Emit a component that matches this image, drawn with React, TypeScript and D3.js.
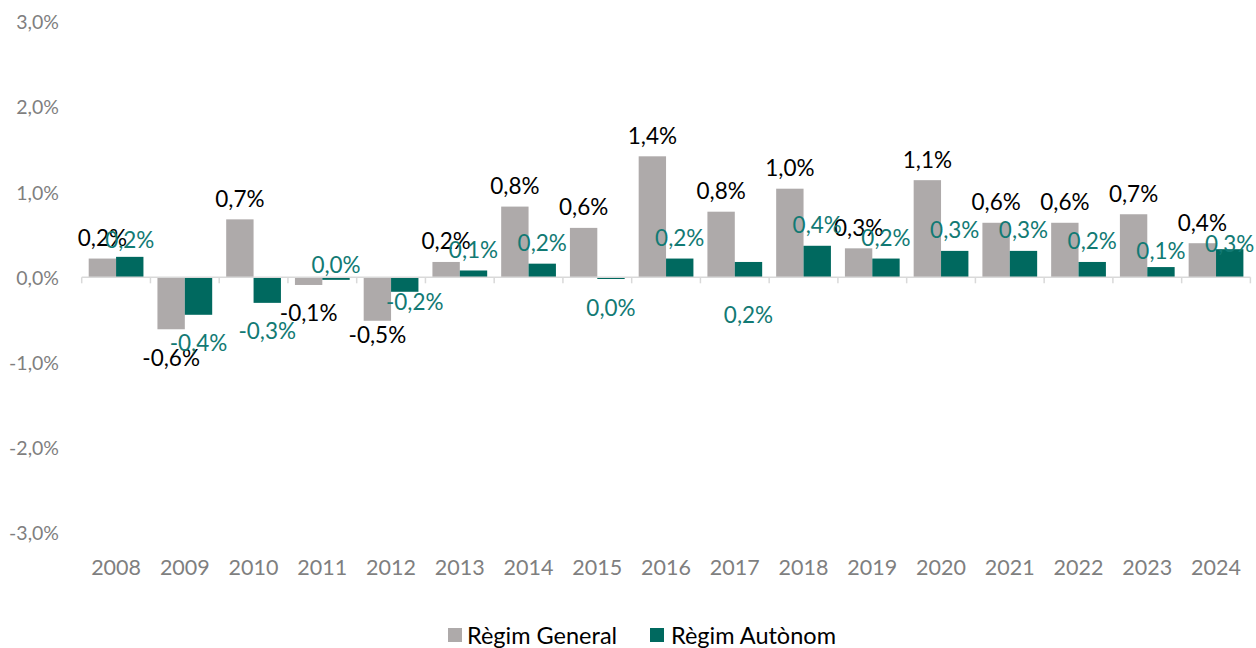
import React from "react";
import * as d3 from "d3";

const years = ["2008","2009","2010","2011","2012","2013","2014","2015","2016","2017","2018","2019","2020","2021","2022","2023","2024"];
const regimGeneral = [0.22,-0.61,0.68,-0.09,-0.51,0.18,0.83,0.58,1.42,0.77,1.04,0.34,1.14,0.64,0.64,0.74,0.40];
const regimAutonom = [0.24,-0.44,-0.30,-0.03,-0.17,0.08,0.16,-0.02,0.22,0.18,0.37,0.22,0.31,0.31,0.18,0.12,0.33];
const yTicks = [-3,-2,-1,0,1,2,3];
const seriesNames = ["Règim General","Règim Autònom"];

const W = 1256, H = 648;
const COLORS = ["#AEAAAA", "#00695F"];
const LABEL_COLORS = ["#000000", "#127A74"];
const FONT = "Lato, 'Open Sans', sans-serif";

// manual label nudges (px), like hand-moved labels in the original
const nudges: Record<string, { dx?: number; dy?: number }> = {
  "1-2008": { dy: 4 },
  "1-2023": { dy: 4 },
  "1-2024": { dy: 15 },
  "1-2017": { dy: 74 },
  "1-2011": { dy: -43 },
  "1-2012": { dx: 10, dy: -18 },
  "0-2012": { dy: -14 },
};

const locale = d3.formatLocale({ decimal: ",", thousands: ".", grouping: [3], currency: ["", "€"], minus: "-" });
const f1 = locale.format(".1f");
const pct = (v: number) => {
  let s = f1(v);
  if (s === "-0,0") s = "0,0";
  return s + "%";
};

export default function App() {
  const x = d3.scaleBand<string>().domain(years).range([81.7, 1250.4]).paddingInner(0).paddingOuter(0);
  const bw = x.bandwidth();
  const xs = d3.scaleBand<number>().domain([0, 1]).range([7, bw - 7]).padding(0);
  const y = d3.scaleLinear().domain([-3, 3]).range([532.9, 21.7]);
  const y0 = y(0);
  const series = [regimGeneral, regimAutonom];
  const boundaries = d3.range(years.length + 1).map((i) => 81.7 + i * bw);

  return (
    <svg width={W} height={H} style={{ position: "absolute", left: 0, top: 0, background: "#fff" }} fontFamily={FONT}>
      {yTicks.map((t) => (
        <text key={t} x={59} y={y(t)} textAnchor="end" dominantBaseline="central" fontSize={19.5} fill="#7F7F7F">
          {locale.format(".1f")(t) + "%"}
        </text>
      ))}
      {series.map((vals, si) =>
        vals.map((v, i) => {
          const bx = (x(years[i]) as number) + (xs(si) as number);
          const top = Math.min(y(v), y0);
          const h = Math.abs(y(v) - y0);
          return <rect key={`b${si}-${i}`} x={bx} y={top} width={xs.bandwidth()} height={h} fill={COLORS[si]} />;
        })
      )}
      <line x1={81.7} x2={1250.4} y1={y0} y2={y0} stroke="#D9D9D9" strokeWidth={1.5} />
      {boundaries.map((bx, i) => (
        <line key={`t${i}`} x1={bx} x2={bx} y1={y0} y2={y0 + 6} stroke="#D9D9D9" strokeWidth={1.5} />
      ))}
      {years.map((yr) => (
        <text key={yr} x={(x(yr) as number) + bw / 2} y={567} textAnchor="middle" dominantBaseline="central" fontSize={21.5} fill="#7F7F7F">
          {yr}
        </text>
      ))}
      {series.map((vals, si) =>
        vals.map((v, i) => {
          const cx = (x(years[i]) as number) + (xs(si) as number) + xs.bandwidth() / 2;
          const n = nudges[`${si}-${years[i]}`] || {};
          const cy = v >= 0 ? y(v) - 21 : y(v) + 28;
          return (
            <text key={`l${si}-${i}`} x={cx + (n.dx || 0)} y={cy + (n.dy || 0)} textAnchor="middle" dominantBaseline="central" fontSize={22.5} fill={LABEL_COLORS[si]}>
              {pct(v)}
            </text>
          );
        })
      )}
      <g>
        <rect x={448} y={628} width={14} height={14} fill={COLORS[0]} />
        <text x={467} y={635} dominantBaseline="central" fontSize={23.5} fill="#000">{seriesNames[0]}</text>
        <rect x={650} y={628} width={14} height={14} fill={COLORS[1]} />
        <text x={671} y={635} dominantBaseline="central" fontSize={23.5} fill="#000">{seriesNames[1]}</text>
      </g>
    </svg>
  );
}
